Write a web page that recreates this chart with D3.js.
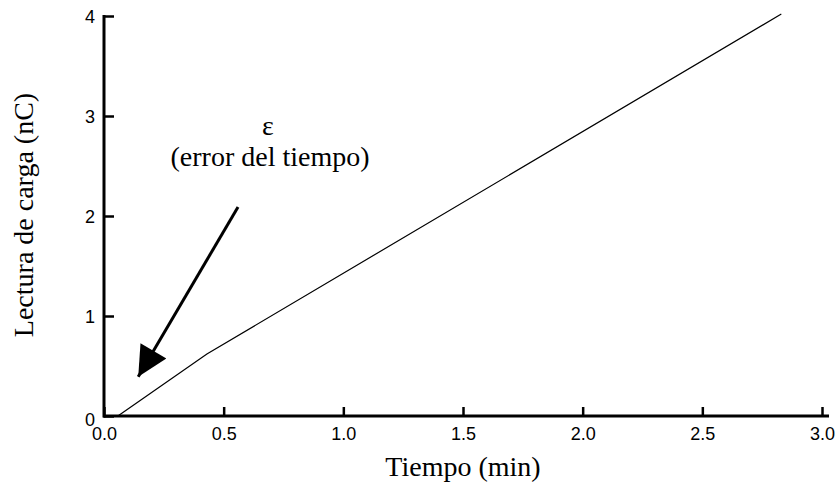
<!DOCTYPE html>
<html>
<head>
<meta charset="utf-8">
<script src="https://cdn.jsdelivr.net/npm/d3@7"></script>
<style>
  body { margin: 0; background: #fff; }
  .title { font-family: "Liberation Serif", "Times New Roman", serif; fill: #000; font-size: 28px; }
</style>
</head>
<body>
<script>
// charge reading against time
var timeValues = [0.058, 0.43, 2.83];
var chargeValues = [0, 0.62, 4.02];

// tick labels
var xTicks = [0, 0.5, 1.0, 1.5, 2.0, 2.5, 3.0];
var yTicks = [0, 1, 2, 3, 4];

// arrow pointing at the time error (start, tip)
var arrowTime = [0.56, 0.143];
var arrowCharge = [2.09, 0.393];

var width = 839, height = 486;

var svg = d3.select("body")
  .append("svg")
  .attr("width", width)
  .attr("height", height);

// scales
var xScale = d3.scaleLinear().domain([0, 3]).range([104, 822]);
var yScale = d3.scaleLinear().domain([0, 4]).range([416, 16]);

// x axis, ticks pointing up
var xAxis = d3.axisBottom(xScale)
  .tickValues(xTicks)
  .tickFormat(d3.format(".1f"))
  .tickSizeInner(-9)
  .tickSizeOuter(0);

var gx = svg.append("g")
  .attr("transform", "translate(0," + yScale(0) + ")")
  .call(xAxis)
  .attr("font-family", "Liberation Sans, Arial, sans-serif")
  .attr("font-size", 18);
gx.select(".domain").remove();
gx.selectAll(".tick line").attr("stroke", "#000").attr("stroke-width", 2.5);
gx.selectAll(".tick text").attr("fill", "#000").attr("dy", "0").attr("y", 24);
gx.append("line")
  .attr("x1", xScale(0) - 1).attr("x2", xScale(3) + 7)
  .attr("stroke", "#000").attr("stroke-width", 3);

// y axis, ticks pointing right
var yAxis = d3.axisLeft(yScale)
  .tickValues(yTicks)
  .tickFormat(d3.format("d"))
  .tickSizeInner(-10)
  .tickSizeOuter(0);

var gy = svg.append("g")
  .attr("transform", "translate(" + xScale(0) + ",0)")
  .call(yAxis)
  .attr("font-family", "Liberation Sans, Arial, sans-serif")
  .attr("font-size", 18);
gy.select(".domain").remove();
gy.selectAll(".tick line").attr("stroke", "#000").attr("stroke-width", 2.5);
gy.selectAll(".tick text")
  .attr("fill", "#000")
  .attr("x", -9)
  .attr("dy", function(d) { return d === 0 ? "0.5em" : "0.38em"; });
gy.append("line")
  .attr("y1", yScale(4) - 1).attr("y2", yScale(0) + 1.5)
  .attr("stroke", "#000").attr("stroke-width", 3);

// data line
var line = d3.line()
  .x(function(d, i) { return xScale(timeValues[i]); })
  .y(function(d, i) { return yScale(chargeValues[i]); });

svg.append("path")
  .datum(timeValues)
  .attr("d", line)
  .attr("fill", "none")
  .attr("stroke", "#000")
  .attr("stroke-width", 1.2);

// arrow head
svg.append("defs").append("marker")
  .attr("id", "head")
  .attr("viewBox", "0 0 10 10")
  .attr("refX", 10).attr("refY", 5)
  .attr("markerUnits", "userSpaceOnUse")
  .attr("markerWidth", 34).attr("markerHeight", 30)
  .attr("orient", "auto")
  .append("path")
  .attr("d", "M0,0 L10,5 L0,10 Z")
  .attr("fill", "#000");

svg.append("line")
  .attr("x1", xScale(arrowTime[0])).attr("y1", yScale(arrowCharge[0]))
  .attr("x2", xScale(arrowTime[1])).attr("y2", yScale(arrowCharge[1]))
  .attr("stroke", "#000")
  .attr("stroke-width", 3)
  .attr("marker-end", "url(#head)");

// annotation
svg.append("text")
  .attr("class", "title")
  .attr("x", 268).attr("y", 135)
  .attr("text-anchor", "middle")
  .text("ε");

svg.append("text")
  .attr("class", "title")
  .attr("x", 270).attr("y", 166)
  .attr("text-anchor", "middle")
  .text("(error del tiempo)");

// axis titles
svg.append("text")
  .attr("class", "title")
  .attr("x", 463).attr("y", 476)
  .attr("text-anchor", "middle")
  .text("Tiempo (min)");

svg.append("text")
  .attr("class", "title")
  .attr("transform", "translate(33,215) rotate(-90)")
  .attr("text-anchor", "middle")
  .text("Lectura de carga (nC)");
</script>
</body>
</html>
